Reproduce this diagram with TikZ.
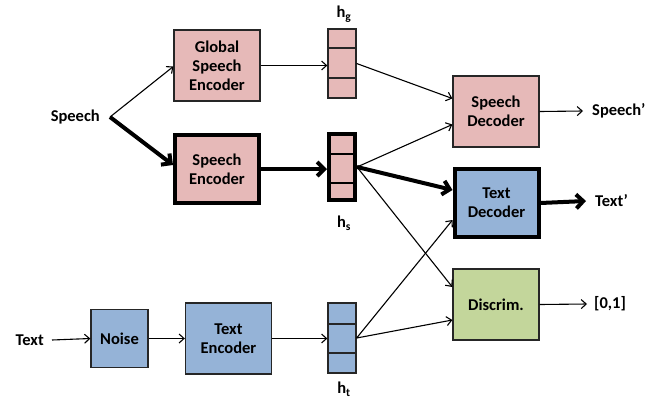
\documentclass[tikz,border=0pt]{standalone}
\usepackage{fontspec}
\setmainfont{Carlito}
\usetikzlibrary{positioning}
\usetikzlibrary{arrows.meta}
\definecolor{spink}{HTML}{E6B9B8}
\definecolor{tblue}{HTML}{95B3D7}
\definecolor{dgreen}{HTML}{C3D69B}
\tikzset{box/.style = {draw=black!85, line width=1.3pt, align=center,
                       minimum width=86pt, minimum height=71pt, inner sep=0,
                       font=\bfseries\fontsize{16.5}{19}\selectfont}}
\tikzset{bold box/.style = {box, line width=4pt, draw=black,
                            minimum width=84pt, minimum height=68pt}}
\tikzset{vec/.style = {draw=black!85, line width=1.3pt, minimum width=28pt,
                       minimum height=69pt, inner sep=0}}
\tikzset{lbl/.style = {font=\bfseries\fontsize{16.5}{19}\selectfont, inner sep=0}}
\tikzset{conn/.style = {line width=1.1pt, -{Straight Barb[length=5pt,width=9pt]}}}
\tikzset{bold conn/.style = {line width=4pt, -{Straight Barb[length=7pt,width=14pt]}}}

\begin{document}
\begin{tikzpicture}[x=1pt,y=-1pt]
  \useasboundingbox (0,0) rectangle (648,402);
  % encoders, decoders and the discriminator
  \node[box, fill=spink] (gse) at (217,65.5) {Global\\Speech\\Encoder};
  \node[bold box, fill=spink] (se) at (217,169) {Speech\\Encoder};
  \node[box, fill=spink] (sdec) at (496,111.5) {Speech\\Decoder};
  \node[bold box, fill=tblue] (tdec) at (496.5,203) {Text\\Decoder};
  \node[box, fill=dgreen] (disc) at (496,304.5) {Discrim.};
  \node[box, fill=tblue, minimum width=57pt, minimum height=58pt] (noise) at (119.5,338.5) {Noise};
  \node[box, fill=tblue] (te) at (228.5,338.5) {Text\\Encoder};
  % hidden vectors
  \node[vec, fill=spink] (hg) at (342,63.5) {};
  \draw[line width=1.3pt, draw=black!85] (hg.west |- 0,48) -- (hg.east |- 0,48)
                                         (hg.west |- 0,78) -- (hg.east |- 0,78);
  \node[vec, fill=spink, line width=4pt, draw=black, minimum width=26pt, minimum height=66pt] (hs) at (342,167) {};
  \draw[line width=2.5pt] (hs.west |- 0,154) -- (hs.east |- 0,154)
                          (hs.west |- 0,183) -- (hs.east |- 0,183);
  \node[vec, fill=tblue, minimum height=70pt] (ht) at (342,338) {};
  \draw[line width=1.3pt, draw=black!85] (ht.west |- 0,324) -- (ht.east |- 0,324)
                                         (ht.west |- 0,353) -- (ht.east |- 0,353);
  \node[lbl] (lhg) at (344,14) {h\textsubscript{g}};
  \node[lbl] (lhs) at (344,223) {h\textsubscript{s}};
  \node[lbl] (lht) at (344,389) {h\textsubscript{t}};
  % inputs and outputs
  \node[lbl, anchor=east] (speech) at (100,117) {Speech};
  \coordinate (fork) at (110,117);
  \node[lbl, anchor=east] (text) at (44,340) {Text};
  \node[lbl, anchor=west] (speechout) at (592,111) {Speech’};
  \node[lbl, anchor=west] (textout) at (595,201) {Text’};
  \node[lbl, anchor=west] (prob) at (594,304) {[0,1]};
  % connectors
  \draw[conn] (fork) -- ([yshift=-1pt]gse.west);
  \draw[bold conn] (fork) -- ([yshift=4pt]se.west);
  \draw[conn] (gse.east) -- (gse.east -| hg.west);
  \draw[bold conn] (se.east) -- (se.east -| hs.west);
  \draw[conn] (hg.east) -- ([yshift=13pt]sdec.west);
  \draw[conn] (hs.east) -- ([yshift=-13pt]sdec.west);
  \draw[bold conn] (hs.east) -- ([yshift=13pt]tdec.west);
  \draw[conn] (hs.east) -- ([yshift=17.5pt]disc.west);
  \draw[conn] (ht.east) -- ([yshift=-17pt]tdec.west);
  \draw[conn] (ht.east) -- ([yshift=-15.5pt]disc.west);
  \draw[conn] (sdec.east) -- ([xshift=-9pt]speechout.west);
  \draw[bold conn] (tdec.east) -- ([xshift=-9pt]textout.west);
  \draw[conn] (disc.east) -- ([xshift=-7pt]prob.west);
  \draw[conn] ([xshift=8pt]text.east) -- (noise.west);
  \draw[conn] (noise.east) -- (noise.east -| te.west);
  \draw[conn] (te.east) -- (te.east -| ht.west);
\end{tikzpicture}
\end{document}
